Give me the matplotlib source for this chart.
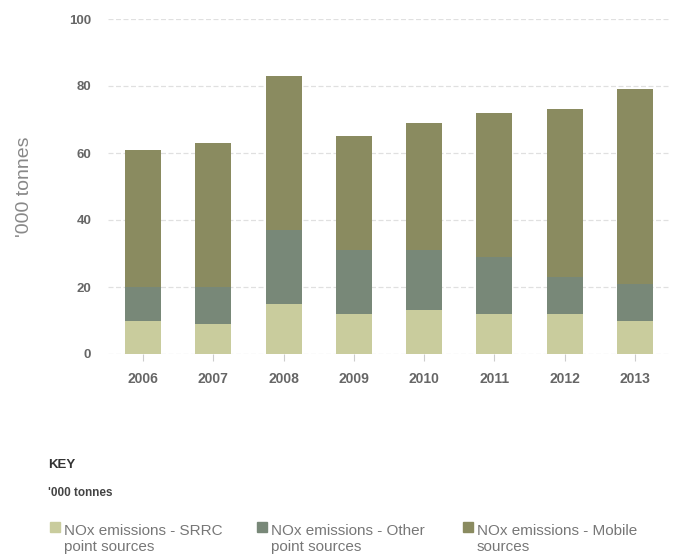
import matplotlib.pyplot as plt
import numpy as np

plt.rcParams['font.family'] = ['Liberation Sans', 'DejaVu Sans']

years = ["2006", "2007", "2008", "2009", "2010", "2011", "2012", "2013"]
srrc = [10, 9, 15, 12, 13, 12, 12, 10]
other = [10, 11, 22, 19, 18, 17, 11, 11]
mobile = [41, 43, 46, 34, 38, 43, 50, 58]
series_names = ["NOx emissions - SRRC\npoint sources",
                "NOx emissions - Other\npoint sources",
                "NOx emissions - Mobile\nsources"]
colors = ["#c9cc9d", "#788878", "#8a8b60"]

fig = plt.figure(figsize=(6.76, 5.56), dpi=100)
ax = fig.add_axes([108 / 676, 1 - 354 / 556, 562 / 676, 335 / 556])

x = np.arange(len(years))
bottom = np.zeros(len(years))
for vals, col in zip([srrc, other, mobile], colors):
    ax.bar(x, vals, width=0.51, bottom=bottom, color=col, zorder=3)
    bottom += np.array(vals)

ax.set_xlim(-0.5, len(years) - 0.5)
ax.set_ylim(0, 100)
ax.set_yticks([0, 20, 40, 60, 80, 100])
ax.set_xticks(x)
ax.set_xticklabels(years, fontsize=10, fontweight="bold", color="#666666")
ax.tick_params(axis="y", length=0, pad=12, labelsize=9.5, labelcolor="#666666")
for lbl in ax.get_yticklabels():
    lbl.set_fontweight("bold")
ax.tick_params(axis="x", length=5, color="#cccccc", pad=8)
ax.grid(axis="y", color="#e0e0e0", linestyle=(0, (4, 2)), linewidth=0.9, zorder=0)
for s in ax.spines.values():
    s.set_visible(False)
ax.set_ylabel("'000 tonnes", fontsize=14, color="#888888", labelpad=26)

# key below the chart
fig.text(48 / 676, 1 - 465 / 556, "KEY", fontsize=9.5, fontweight="bold",
         color="#333333", va="center")
fig.text(48 / 676, 1 - 493 / 556, "'000 tonnes", fontsize=8.5, fontweight="bold",
         color="#444444", va="center")
key_x = [50, 257, 463]
for kx, name, col in zip(key_x, series_names, colors):
    fig.patches.append(plt.Rectangle((kx / 676, 1 - 532 / 556), 10 / 676, 10 / 556,
                                     transform=fig.transFigure, color=col))
    fig.text((kx + 14) / 676, 1 - 539 / 556, name, fontsize=11, color="#777777",
             va="center", linespacing=1.1)

fig.savefig("out.png", dpi=100)
